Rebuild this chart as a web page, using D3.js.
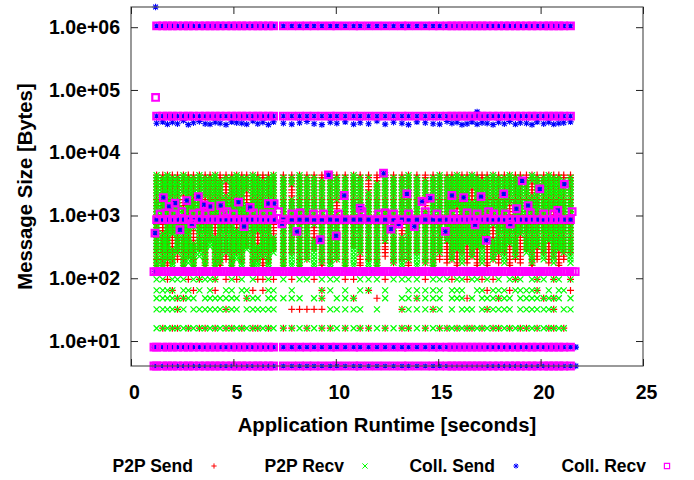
<!DOCTYPE html>
<html><head><meta charset="utf-8">
<script src="https://cdn.jsdelivr.net/npm/d3@7"></script>
<style>
body{margin:0;background:#fff}
svg{display:block}
text{font-family:"Liberation Sans",Arial,sans-serif;font-weight:bold;fill:#000}
</style>
</head><body><svg id="chart" width="694" height="480"></svg>
<script>
// ---------------- DATA ----------------
const seriesNames = ["P2P Send", "P2P Recv", "Coll. Send", "Coll. Recv"];
const xTicks = [0, 5, 10, 15, 20, 25];
const yTicks = [10, 100, 1000, 10000, 100000, 1000000];

// sample time columns (seconds)
const times = [1.25,1.55,1.78,2.02,2.27,2.56,2.80,3.05,3.34,3.62,3.86,4.11,4.35,4.64,4.92,5.16,5.41,5.65,5.95,6.19,6.44,6.71,6.96,7.44,7.85,8.23,8.59,8.94,9.32,9.73,10.05,10.46,10.87,11.19,11.60,12.01,12.41,12.82,13.23,13.55,13.96,14.37,14.75,15.07,15.43,15.67,15.92,16.16,16.41,16.65,16.90,17.14,17.39,17.68,17.95,18.23,18.49,18.77,19.01,19.31,19.58,19.83,20.15,20.40,20.64,20.89,21.13,21.46];

// message sizes that fill the P2P bands (bytes)
const bandSizes = [128,144,160,176,200,224,256,288,320,360,400,448,512,576,640,720,800,896,1024,1152,1280,1440,1600,1792,2048,2304,2560,2880,3200,3584,4000,4400];

// P2P Recv band per column
const recvHi = [4400,4000,4400,4000,4000,4400,4000,4000,4400,4000,4000,4400,3584,4000,4000,4400,4000,4000,4400,4000,3584,4000,4400,4000,4000,4400,4000,4000,3584,4400,4000,4000,4400,4000,4000,3200,4400,4000,4000,4400,4000,3584,4000,4400,4000,4000,4400,4000,4000,4400,4000,3584,4000,4400,4000,4000,4400,4000,4000,3584,4400,4000,4000,4400,4000,4000,3584,4000];
const recvLo = [128,144,200,128,256,144,176,128,224,160,320,128,176,256,128,200,144,288,128,160,224,144,256,144,160,128,200,144,176,128,200,144,160,256,144,128,400,176,144,200,160,176,128,256,400,200,288,176,360,224,320,176,448,200,256,176,360,224,512,256,176,320,200,400,176,288,256,176];
const gapLo = [0,576,0,320,0,1440,0,400,0,1280,0,512,0,2304,0,640,0,1600,0,360,0,0,512,0,2048,0,0,448,0,0,1152,0,0,0,2560,0,0,0,512,0,0,1280,0,0,0,0,896,0,0,1792,0,0,0,448,0,0,1024,0,0,0,2304,0,0,0,800,0,0,0];
const gapHi = [0,800,0,448,0,2048,0,576,0,1792,0,720,0,3200,0,896,0,2304,0,512,0,0,800,0,2880,0,0,640,0,0,1600,0,0,0,3584,0,0,0,720,0,0,1792,0,0,0,0,1280,0,0,2560,0,0,0,640,0,0,1440,0,0,0,3200,0,0,0,1152,0,0,0];
// P2P Send band per column
const sendLo = [128,160,144,176,200,128,224,144,288,128,400,160,144,200,128,256,176,320,144,200,128,176,288,144,256,128,200,288,144,176,200,128,320,160,200,144,224,176,200,128,256,176,144,200,176,200,144,256,176,224,128,320,144,200,176,256,144,200,176,288,144,200,256,176,224,144,200,256];
const sendTop = 4400;

// sparse low-size rows (bytes) and presence per column
const lowSizes = [16, 32, 48, 64, 96];
const recvLow16 = "1111111111111111111111111111111111111111111111111111111111111111111";
const recvLow32 = "1111110111111111011111100000011111010011111101011101111110111111101111";
const recvLow48 = "1111111101111111011101111101101110001011111101110101111110111111110111";
const recvLow64 = "1111011010100110110001101000110101101001111101110011011101111101011001";
const recvLow96 = "1101110111110010101001010110111001110111101110110110101011101110110100";
const sendLow16 = "0101101011010110101101011010110101101011010110101101011010110101101011";
const sendLow32 = "0000100000000100000000001111100000000010001000000000100000000000100001";
const sendLow48 = "0000110000000000010000000000100010010000100000001000001000000010100000";
const sendLow64 = "0001000100010000001010000000100000100000000000000000100010000100000110";
const sendLow96 = "0010001010010101000110101001000110001000010001001001010001000100100101";

// collective rows present at every column (bytes)
const collRows = [4, 8, 860, 38400, 1048576];
const edgeTimesBoth = [1.12];
const edgeTimesSend = [21.72];
// dense 128-byte Coll. Recv band
const recv128Times = [1.12,1.26,1.39,1.53,1.67,1.80,1.94,2.08,2.22,2.35,2.49,2.63,2.76,2.90,3.04,3.18,3.31,3.45,3.59,3.72,3.86,4.00,4.14,4.27,4.41,4.55,4.68,4.82,4.96,5.10,5.23,5.37,5.51,5.64,5.78,5.92,6.06,6.19,6.33,6.47,6.60,6.74,6.88,7.02,7.15,7.29,7.43,7.56,7.70,7.84,7.98,8.11,8.25,8.39,8.52,8.66,8.80,8.94,9.07,9.21,9.35,9.48,9.62,9.76,9.90,10.03,10.17,10.31,10.44,10.58,10.72,10.86,10.99,11.13,11.27,11.40,11.54,11.68,11.82,11.95,12.09,12.23,12.36,12.50,12.64,12.78,12.91,13.05,13.19,13.32,13.46,13.60,13.74,13.87,14.01,14.15,14.28,14.42,14.56,14.70,14.83,14.97,15.11,15.24,15.38,15.52,15.66,15.79,15.93,16.07,16.20,16.34,16.48,16.62,16.75,16.89,17.03,17.16,17.30,17.44,17.58,17.71,17.85,17.99,18.12,18.26,18.40,18.54,18.67,18.81,18.95,19.08,19.22,19.36,19.50,19.63,19.77,19.91,20.04,20.18,20.32,20.46,20.59,20.73,20.87,21.00,21.14,21.28,21.42,21.55,21.69];
const send128Times = [1.17, 10.60, 11.78];
// Coll. Send stars just below the 38400-byte row
const collSendLowSizes = [29500,31000,28500,30500,29000,32500,28000,30000,31500,29000,28500,30500,29500,28000,31000,30000,29500,28500,32000,29000,30500,28000,31000,29500,28500,30000,31500,29000,28000,30500,29500,31000,28500,30000,29000,32000,28500,30500,29500,28000,31000,30000,29000,28500,31500,29500,30500,28000,29000,31000,28500,30000,29500,28000,30500,29000,31500,28500,30000,29500,28000,31000,29000,30500,28500,29500,30000,31000];
// Coll. Recv-only squares slightly above the 860-byte row
const recvMidTimes = [1.42,1.74,2.07,2.48,3.05,3.37,3.62,4.51,4.68,5.00,5.98,6.47,6.79,7.20,7.85,8.26,8.91,9.40,10.13,11.28,12.09,12.41,12.82,13.55,14.37,14.94,15.75,16.41,16.90,17.46,17.71,18.28,19.50,20.15,20.64,21.54];
const recvMidSizes = [1060,1100,1060,1150,1060,1100,1060,1060,1150,1060,1100,1060,1060,1150,1060,1100,1060,1060,1060,1150,1060,1100,1060,1060,1150,1060,1060,1100,1060,1150,1060,1060,1100,1060,1060,1150];
// scattered collectives (send + recv at same point)
const scatterTimes = [1.17,1.58,1.86,2.15,2.39,2.72,2.97,3.29,3.57,3.86,4.38,5.25,5.52,5.82,6.71,6.99,7.37,8.10,9.24,9.64,10.02,10.41,11.19,12.33,12.69,13.07,13.47,13.83,14.21,14.61,15.35,15.67,16.24,16.80,17.09,17.35,18.20,18.52,18.82,19.10,19.39,19.96,20.84,21.16];
const scatterSizes = [525,1930,1390,1575,593,1730,738,2000,1480,1390,1440,1630,668,1340,1550,1550,738,557,411,4430,475,2080,1310,4720,608,730,2210,668,1670,1890,557,2080,1930,711,2000,401,2210,730,1280,3560,1440,2650,1200,3160];
// individual outliers
const sendOutlierTimes = [1.20, 16.90];
const sendOutlierSizes = [2097152, 44700];
const recvOutlierTimes = [1.20];
const recvOutlierSizes = [76000];

// ---------------- BUILD POINTS ----------------
const p2pSend = [], p2pRecv = [], collSend = [], collRecv = [];
times.forEach((t, i) => {
  bandSizes.forEach(s => {
    if (s >= sendLo[i] && s <= sendTop) p2pSend.push([t, s]);
    const inGap = s >= gapLo[i] && s <= gapHi[i];
    if (s >= recvLo[i] && s <= recvHi[i] && !inGap) p2pRecv.push([t, s]);
  });
});
const recvMasks = [recvLow16, recvLow32, recvLow48, recvLow64, recvLow96];
const sendMasks = [sendLow16, sendLow32, sendLow48, sendLow64, sendLow96];
lowSizes.forEach((s, k) => {
  times.forEach((t, i) => {
    if (sendMasks[k][i] === "1") p2pSend.push([t, s]);
    if (recvMasks[k][i] === "1") p2pRecv.push([t, s]);
  });
});
collRows.forEach(s => {
  times.forEach(t => { collSend.push([t, s]); collRecv.push([t, s]); });
});
[4, 8].forEach(s => {
  edgeTimesBoth.forEach(t => { collSend.push([t, s]); collRecv.push([t, s]); });
  edgeTimesSend.forEach(t => collSend.push([t, s]));
});
times.forEach((t, i) => collSend.push([t, collSendLowSizes[i]]));
recv128Times.forEach(t => collRecv.push([t, 128]));
send128Times.forEach(t => collSend.push([t, 128]));
recvMidTimes.forEach((t, i) => collRecv.push([t, recvMidSizes[i]]));
scatterTimes.forEach((t, i) => { collSend.push([t, scatterSizes[i]]); collRecv.push([t, scatterSizes[i]]); });
sendOutlierTimes.forEach((t, i) => collSend.push([t, sendOutlierSizes[i]]));
recvOutlierTimes.forEach((t, i) => collRecv.push([t, recvOutlierSizes[i]]));

// ---------------- DRAW ----------------
const svg = d3.select("#chart");
const M = {l: 131, r: 643, t: 7, b: 366};
const x = d3.scaleLinear().domain([0, 25]).range([M.l, M.r]);
const y = d3.scaleLog().domain([4, 2097152]).range([M.b, M.t]);

const shapes = {
  plus:  (cx, cy, r) => `M${cx - r},${cy}h${2 * r}M${cx},${cy - r}v${2 * r}`,
  cross: (cx, cy, r) => `M${cx - r},${cy - r}l${2 * r},${2 * r}M${cx - r},${cy + r}l${2 * r},${-2 * r}`,
  star:  (cx, cy, r) => { const d = r * 0.75; return `M${cx - r},${cy}h${2 * r}M${cx},${cy - r}v${2 * r}M${cx - d},${cy - d}l${2 * d},${2 * d}M${cx - d},${cy + d}l${2 * d},${-2 * d}`; },
  square:(cx, cy, r) => `M${cx - r},${cy - r}h${2 * r}v${2 * r}h${-2 * r}Z`
};
const styles = [
  {shape: "plus",   color: "#ff0000", r: 3.5, w: 1.2},
  {shape: "cross",  color: "#00ff00", r: 3.0, w: 1.2},
  {shape: "star",   color: "#0000ff", r: 3.2, w: 1.1},
  {shape: "square", color: "#ff00ff", r: 3.3, w: 2.2}
];
const allSeries = [p2pSend, p2pRecv, collSend, collRecv];

const plot = svg.append("g");
allSeries.forEach((data, k) => {
  const st = styles[k];
  plot.append("g").selectAll("path").data(data).join("path")
    .attr("d", d => shapes[st.shape](x(d[0]), y(d[1]), st.r))
    .attr("fill", "none").attr("stroke", st.color).attr("stroke-width", st.w);
});

// frame
svg.append("rect").attr("x", M.l).attr("y", M.t).attr("width", M.r - M.l).attr("height", M.b - M.t)
  .attr("fill", "none").attr("stroke", "#555").attr("stroke-width", 1.2);

const fmt = d => { const [m, e] = d.toExponential(1).split("e"); return m + "e" + e[0] + e.slice(1).padStart(2, "0"); };
const fs = "19.5px";
const yAx = svg.append("g").attr("transform", `translate(${M.l},0)`)
  .call(d3.axisLeft(y).tickValues(yTicks).tickFormat(fmt).tickSizeInner(-7).tickSizeOuter(0).tickPadding(11));
yAx.select(".domain").remove();
yAx.selectAll("text").style("font-size", fs).attr("font-family", null);
svg.append("g").attr("transform", `translate(${M.r},0)`)
  .call(d3.axisRight(y).tickValues(yTicks).tickFormat("").tickSizeInner(-7).tickSizeOuter(0))
  .select(".domain").remove();
const xAx = svg.append("g").attr("transform", `translate(0,${M.b})`)
  .call(d3.axisBottom(x).tickValues(xTicks).tickFormat(d3.format("d")).tickSizeInner(-7).tickSizeOuter(0).tickPadding(19));
xAx.select(".domain").remove();
xAx.selectAll("text").style("font-size", fs).attr("font-family", null).attr("dx", 3);
svg.append("g").attr("transform", `translate(0,${M.t})`)
  .call(d3.axisTop(x).tickValues(xTicks).tickFormat("").tickSizeInner(-7).tickSizeOuter(0))
  .select(".domain").remove();
svg.selectAll(".tick line").attr("stroke", "#222");

// axis titles
svg.append("text").attr("x", (M.l + M.r) / 2).attr("y", 432).attr("text-anchor", "middle")
  .style("font-size", "20.3px").text("Application Runtime [seconds]");
svg.append("text").attr("transform", `translate(32,${(M.t + M.b) / 2}) rotate(-90)`).attr("text-anchor", "middle")
  .style("font-size", "20.3px").text("Message Size [Bytes]");

// legend
const legTextX = [193, 344, 495, 646];
const legY = 466;
seriesNames.forEach((name, k) => {
  const st = styles[k];
  svg.append("text").attr("x", legTextX[k]).attr("y", legY + 6).attr("text-anchor", "end")
    .style("font-size", "17.5px").text(name);
  svg.append("path").attr("d", shapes[st.shape](legTextX[k] + 21, legY, 2.6))
    .attr("fill", "none").attr("stroke", st.color).attr("stroke-width", k === 3 ? 1.2 : 1);
});
</script>
</body></html>
